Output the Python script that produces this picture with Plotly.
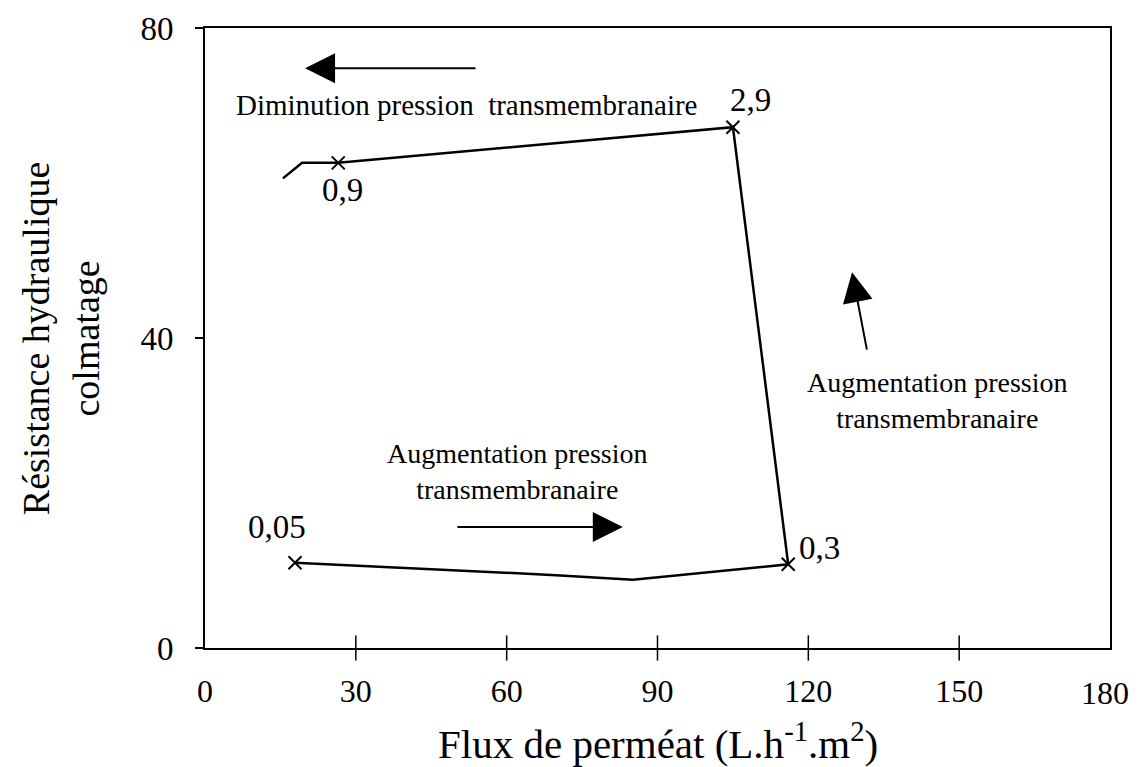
import plotly.graph_objects as go

# measured curve (flux, resistance)
flux = [17.9, 69.8, 85.1, 116.0, 105.0, 26.5, 19.3, 15.5]
resistance = [11.0, 9.4, 8.8, 10.8, 67.2, 62.6, 62.6, 60.6]

# marked points and their pressure labels
mark_flux = [17.9, 116.0, 105.0, 26.5]
mark_res = [11.0, 10.8, 67.2, 62.6]
press_labels = ['0,05', '0,3', '2,9', '0,9']
label_x = [14.3, 122.3, 108.4, 27.4]
label_y = [15.6, 12.9, 70.7, 59.1]

x_ticks = [0, 30, 60, 90, 120, 150, 180]
y_ticks = [0, 40, 80]

FONT = 'Liberation Serif'

fig = go.Figure()
fig.add_trace(go.Scatter(
    x=flux, y=resistance, mode='lines',
    line=dict(color='black', width=2.5),
    showlegend=False, hoverinfo='skip'
))
fig.add_trace(go.Scatter(
    x=mark_flux, y=mark_res, mode='markers',
    marker=dict(symbol='x-thin', size=13, line=dict(color='black', width=2)),
    showlegend=False, hoverinfo='skip'
))
# x ticks crossing the axis line on both sides
fig.add_trace(go.Scatter(
    x=x_ticks[1:-1], y=[0] * (len(x_ticks) - 2), mode='markers', cliponaxis=False,
    marker=dict(symbol='line-ns', size=18, line=dict(color='black', width=1.5)),
    showlegend=False, hoverinfo='skip'
))

for txt, lx, ly in zip(press_labels, label_x, label_y):
    fig.add_annotation(x=lx, y=ly, text=txt, showarrow=False,
                       font=dict(family=FONT, size=33, color='black'))

# direction arrows
arrows = [
    dict(x=19.9, y=74.8, ax=54.1, ay=74.8),
    dict(x=83.1, y=15.6, ax=49.9, ay=15.6),
    dict(x=128.7, y=48.5, ax=131.7, ay=38.3),
]
for a in arrows:
    fig.add_annotation(x=a['x'], y=a['y'], ax=a['ax'], ay=a['ay'],
                       xref='x', yref='y', axref='x', ayref='y', text='',
                       showarrow=True, arrowhead=2, arrowsize=3,
                       arrowwidth=2, arrowcolor='black')

fig.add_annotation(x=52.1, y=70.1, text='Diminution pression  transmembranaire',
                   showarrow=False, font=dict(family=FONT, size=29, color='black'))
fig.add_annotation(x=62.1, y=22.8, text='Augmentation pression<br>transmembranaire',
                   showarrow=False, font=dict(family=FONT, size=28, color='black'))
fig.add_annotation(x=145.6, y=31.9, text='Augmentation pression<br>transmembranaire',
                   showarrow=False, font=dict(family=FONT, size=28, color='black'))

# last x tick label, kept inside the page edge
fig.add_annotation(x=x_ticks[-1], y=0, text=str(x_ticks[-1]), showarrow=False,
                   xanchor='right', yanchor='middle', xshift=21, yshift=-45,
                   font=dict(family=FONT, size=32, color='black'))

# axis titles
fig.add_annotation(xref='paper', yref='paper', x=-0.160, y=0.5,
                   xanchor='center', yanchor='middle',
                   text='Résistance hydraulique<br>colmatage', textangle=-90,
                   showarrow=False, font=dict(family=FONT, size=38, color='black'))
fig.add_annotation(xref='paper', yref='paper', x=0.5, y=-0.150,
                   xanchor='center', yanchor='middle',
                   text='Flux de perméat (L.h<sup>-1</sup>.m<sup>2</sup>)',
                   showarrow=False, font=dict(family=FONT, size=41, color='black'))

fig.update_layout(
    width=1131, height=759,
    margin=dict(l=197, r=29, t=20, b=119),
    plot_bgcolor='white', paper_bgcolor='white',
    font=dict(family=FONT, color='black'),
    xaxis=dict(range=[0, 180], tickvals=x_ticks,
               ticktext=[str(v) for v in x_ticks[:-1]] + [''],
               showgrid=False, zeroline=False,
               showline=True, linecolor='black', linewidth=2, mirror=True,
               ticks='', automargin=False,
               tickfont=dict(family=FONT, size=32), ticklabelstandoff=14),
    yaxis=dict(range=[0, 80], tickvals=y_ticks, showgrid=False, zeroline=False,
               showline=True, linecolor='black', linewidth=2, mirror=True,
               ticks='outside', ticklen=8, tickwidth=1.5, tickcolor='black',
               automargin=False,
               tickfont=dict(family=FONT, size=33), ticklabelstandoff=15),
)

fig.write_html('out.html')
